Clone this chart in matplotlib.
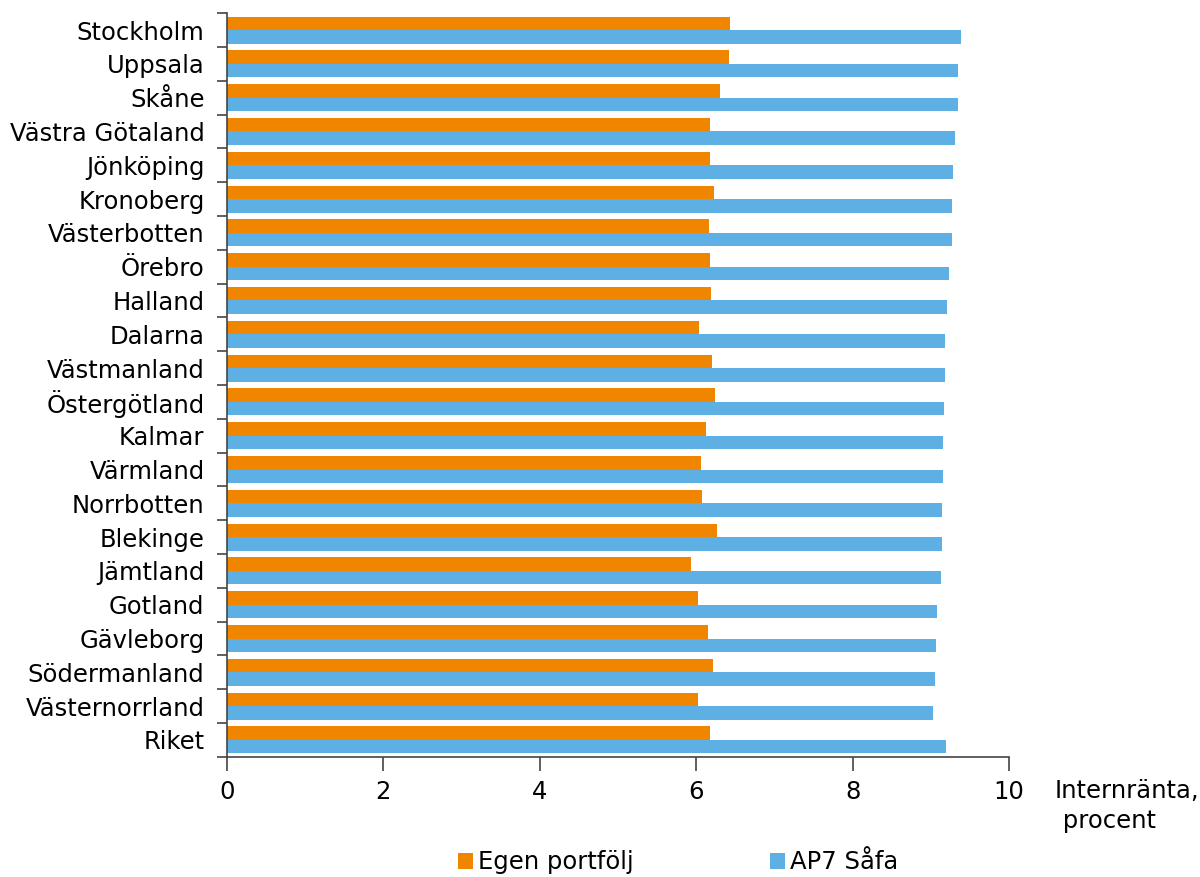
import matplotlib
matplotlib.use("Agg")
import matplotlib.pyplot as plt
import numpy as np

plt.rcParams['font.family'] = ['DejaVu Sans']

regions = ["Stockholm", "Uppsala", "Skåne", "Västra Götaland", "Jönköping",
           "Kronoberg", "Västerbotten", "Örebro", "Halland", "Dalarna",
           "Västmanland", "Östergötland", "Kalmar", "Värmland", "Norrbotten",
           "Blekinge", "Jämtland", "Gotland", "Gävleborg", "Södermanland",
           "Västernorrland", "Riket"]
egen_portfolj = [6.43, 6.42, 6.30, 6.18, 6.17, 6.23, 6.16, 6.17, 6.19, 6.04,
                 6.20, 6.24, 6.13, 6.06, 6.08, 6.26, 5.93, 6.02, 6.15, 6.21,
                 6.02, 6.17]
ap7_safa = [9.38, 9.35, 9.35, 9.31, 9.28, 9.27, 9.27, 9.23, 9.20, 9.18,
            9.18, 9.17, 9.16, 9.15, 9.14, 9.14, 9.13, 9.08, 9.07, 9.05,
            9.03, 9.19]
x_ticks = [0, 2, 4, 6, 8, 10]

ORANGE = "#F08500"
BLUE = "#5EAFE4"
AXIS = "#444444"
FS = 17.5

fig = plt.figure(figsize=(12, 8.77), dpi=100)
ax = fig.add_axes([0.189, 0.137, 0.652, 0.848])

y = np.arange(len(regions))
h = 0.40
ax.barh(y - h / 2, egen_portfolj, height=h, color=ORANGE, label="Egen portfölj")
ax.barh(y + h / 2, ap7_safa, height=h, color=BLUE, label="AP7 Såfa")

ax.set_xlim(0, 10)
ax.set_ylim(len(regions) - 0.5, -0.5)
ax.set_xticks(x_ticks)
ax.set_xticklabels([str(t) for t in x_ticks], fontsize=FS)

# category labels centred on groups, tick marks at group boundaries
ax.set_yticks(y)
ax.set_yticklabels(regions, fontsize=FS)
ax.tick_params(axis='y', which='major', length=0, pad=16)
ax.set_yticks(np.arange(-0.5, len(regions) + 0.5, 1), minor=True)
ax.tick_params(axis='y', which='minor', length=7, width=1.2, color=AXIS)
ax.tick_params(axis='x', length=10, width=1.2, color=AXIS, pad=7)

for s in ["top", "right"]:
    ax.spines[s].set_visible(False)
for s in ["left", "bottom"]:
    ax.spines[s].set_color(AXIS)
    ax.spines[s].set_linewidth(1.2)

fig.text(0.879, 0.081, "Internränta,\n procent", fontsize=FS, ha="left",
         va="center", linespacing=1.3)

fig.legend(loc="lower center", bbox_to_anchor=(0.565, -0.022), ncol=2,
           frameon=False, fontsize=FS, handlelength=0.62, handleheight=0.62,
           handletextpad=0.2, columnspacing=5.6)

fig.savefig("out.png", dpi=100)
